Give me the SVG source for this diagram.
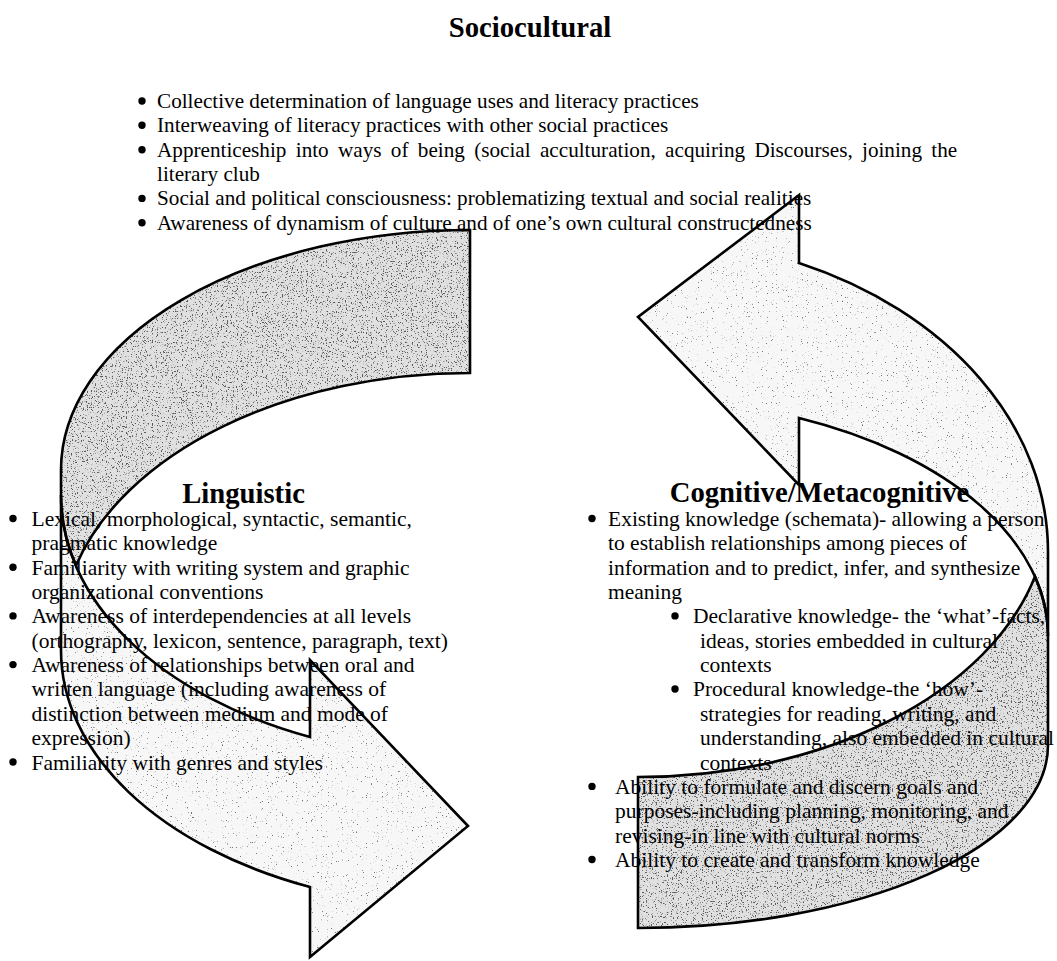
<svg xmlns="http://www.w3.org/2000/svg" width="1057" height="961" viewBox="0 0 1057 961">
  <style>
    text { font-family: "Liberation Serif", "Times New Roman", serif; fill: #000; }
    .body { font-size: 21.5px; }
    .soc { font-size: 21.2px; }
    .head { font-size: 28.7px; font-weight: bold; text-anchor: middle; }
    .back { fill: #e0e0e0; stroke: none; }
    .front { fill: #f7f7f7; stroke: none; }
    .edge { fill: none; stroke: #000; stroke-width: 2.6; stroke-linejoin: miter; }
    .dot { fill: #000; }
  </style>
  <defs>
    <!-- stipple textures laid over the band fills -->
    <filter id="stippleDense" filterUnits="userSpaceOnUse" x="0" y="0" width="1057" height="961" color-interpolation-filters="sRGB">
      <feTurbulence type="fractalNoise" baseFrequency="0.8" numOctaves="2" seed="4" result="noise"/>
      <feColorMatrix in="noise" type="matrix" values="0 0 0 0 0.35  0 0 0 0 0.35  0 0 0 0 0.35  10 0 0 0 -6.0" result="dots"/>
      <feComposite in="dots" in2="SourceAlpha" operator="in" result="clipped"/>
      <feMerge><feMergeNode in="SourceGraphic"/><feMergeNode in="clipped"/></feMerge>
    </filter>
    <filter id="stippleLight" filterUnits="userSpaceOnUse" x="0" y="0" width="1057" height="961" color-interpolation-filters="sRGB">
      <feTurbulence type="fractalNoise" baseFrequency="0.8" numOctaves="2" seed="9" result="noise"/>
      <feColorMatrix in="noise" type="matrix" values="0 0 0 0 0.45  0 0 0 0 0.45  0 0 0 0 0.45  10 0 0 0 -6.9" result="dots"/>
      <feComposite in="dots" in2="SourceAlpha" operator="in" result="clipped"/>
      <feMerge><feMergeNode in="SourceGraphic"/><feMergeNode in="clipped"/></feMerge>
    </filter>
    <!-- band outlines: rear band (tail) and front band (head) of each curved arrow -->
    <path id="left-rear" d="M470 230 A409 240 0 0 0 61 470 L61 495 A409 262 0 0 0 76 565.5 A409 263 0 0 1 470 373 Z"/>
    <path id="left-front" d="M61 495 A409 262 0 0 0 310 737 L310 660 L468 826 L310 957 L310 887 A409 257 0 0 1 61 650 Z"/>
    <path id="right-rear" d="M638 928 A410 183 0 0 0 1048 745 L1048 636 A410 237 0 0 0 1035 576.4 A410 268 0 0 1 638 777 Z"/>
    <path id="right-front" d="M1048 636 A410 237 0 0 0 799 418 L799 485 L638 317 L799 195 L799 263 A410 314 0 0 1 1048 552 Z"/>
  </defs>
  <rect width="1057" height="961" fill="#fff"/>

  <g id="connectors">
    <g id="arrow-left">
      <use href="#left-rear" class="back" filter="url(#stippleDense)"/>
      <use href="#left-front" class="front" filter="url(#stippleLight)"/>
      <use href="#left-rear" class="edge"/>
      <use href="#left-front" class="edge"/>
    </g>
    <g id="arrow-right">
      <use href="#right-rear" class="back" filter="url(#stippleDense)"/>
      <use href="#right-front" class="front" filter="url(#stippleLight)"/>
      <use href="#right-rear" class="edge"/>
      <use href="#right-front" class="edge"/>
    </g>
  </g>

  <g id="sociocultural">
    <text class="head" x="530" y="37">Sociocultural</text>
    <circle class="dot" cx="142" cy="101" r="3.7"/>
    <circle class="dot" cx="142" cy="125.3" r="3.7"/>
    <circle class="dot" cx="142" cy="149.7" r="3.7"/>
    <circle class="dot" cx="142" cy="198.4" r="3.7"/>
    <circle class="dot" cx="142" cy="222.7" r="3.7"/>
    <text class="soc" x="157" y="108">Collective determination of language uses and literacy practices</text>
    <text class="soc" x="157" y="132.35">Interweaving of literacy practices with other social practices</text>
    <text class="soc" x="157" y="156.7" word-spacing="4">Apprenticeship into ways of being (social acculturation, acquiring Discourses, joining the</text>
    <text class="soc" x="157" y="181.05">literary club</text>
    <text class="soc" x="157" y="205.4">Social and political consciousness: problematizing textual and social realities</text>
    <text class="soc" x="157" y="229.75">Awareness of dynamism of culture and of one’s own cultural constructedness</text>
  </g>

  <g id="linguistic">
    <text class="head" x="243.5" y="503">Linguistic</text>
    <circle class="dot" cx="13" cy="518.5" r="3.7"/>
    <circle class="dot" cx="13" cy="567.2" r="3.7"/>
    <circle class="dot" cx="13" cy="615.9" r="3.7"/>
    <circle class="dot" cx="13" cy="664.6" r="3.7"/>
    <circle class="dot" cx="13" cy="762" r="3.7"/>
    <text class="body" x="31.5" y="526">Lexical, morphological, syntactic, semantic,</text>
    <text class="body" x="31.5" y="550.35">pragmatic knowledge</text>
    <text class="body" x="31.5" y="574.7">Familiarity with writing system and graphic</text>
    <text class="body" x="31.5" y="599.05">organizational conventions</text>
    <text class="body" x="31.5" y="623.4">Awareness of interdependencies at all levels</text>
    <text class="body" x="31.5" y="647.75">(orthography, lexicon, sentence, paragraph, text)</text>
    <text class="body" x="31.5" y="672.1">Awareness of relationships between oral and</text>
    <text class="body" x="31.5" y="696.45">written language (including awareness of</text>
    <text class="body" x="31.5" y="720.8">distinction between medium and mode of</text>
    <text class="body" x="31.5" y="745.15">expression)</text>
    <text class="body" x="31.5" y="769.5">Familiarity with genres and styles</text>
  </g>

  <g id="cognitive">
    <text class="head" x="819.5" y="502">Cognitive/Metacognitive</text>
    <circle class="dot" cx="592" cy="518.5" r="3.7"/>
    <circle class="dot" cx="675" cy="615.9" r="3.7"/>
    <circle class="dot" cx="675" cy="689" r="3.7"/>
    <circle class="dot" cx="592" cy="786.4" r="3.7"/>
    <circle class="dot" cx="592" cy="859.5" r="3.7"/>
    <text class="body" x="608" y="526">Existing knowledge (schemata)- allowing a person</text>
    <text class="body" x="608" y="550.35">to establish relationships among pieces of</text>
    <text class="body" x="608" y="574.7">information and to predict, infer, and synthesize</text>
    <text class="body" x="608" y="599.05">meaning</text>
    <text class="body" x="693" y="623.4">Declarative knowledge- the ‘what’-facts,</text>
    <text class="body" x="700" y="647.75">ideas, stories embedded in cultural</text>
    <text class="body" x="700" y="672.1">contexts</text>
    <text class="body" x="693" y="696.45">Procedural knowledge-the ‘how’-</text>
    <text class="body" x="700" y="720.8">strategies for reading, writing, and</text>
    <text class="body" x="700" y="745.15">understanding, also embedded in cultural</text>
    <text class="body" x="700" y="769.5">contexts</text>
    <text class="body" x="615" y="793.85">Ability to formulate and discern goals and</text>
    <text class="body" x="615" y="818.2">purposes-including planning, monitoring, and</text>
    <text class="body" x="615" y="842.55">revising-in line with cultural norms</text>
    <text class="body" x="615" y="866.9">Ability to create and transform knowledge</text>
  </g>
</svg>
